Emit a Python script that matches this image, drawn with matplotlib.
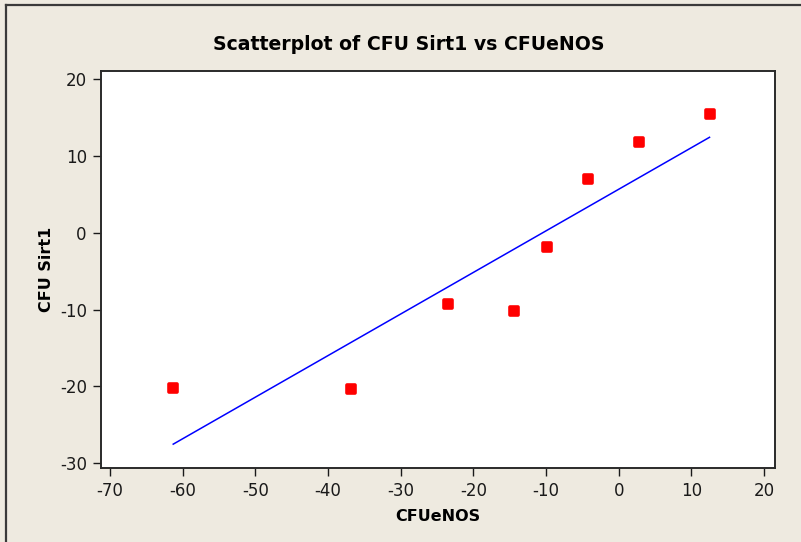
import numpy as np
import matplotlib
matplotlib.use("Agg")
import matplotlib.pyplot as plt
from matplotlib.lines import Line2D
from matplotlib.markers import MarkerStyle

plt.rcParams["axes.unicode_minus"] = False

# Observations
cfu_enos = [-61.3, -36.8, -23.5, -14.4, -9.9, -4.2, 2.8, 12.5]
cfu_sirt1 = [-20.2, -20.3, -9.3, -10.2, -1.9, 7.0, 11.8, 15.4]

x_ticks = [-70, -60, -50, -40, -30, -20, -10, 0, 10, 20]
y_ticks = [-30, -20, -10, 0, 10, 20]

title = "Scatterplot of CFU Sirt1 vs CFUeNOS"
x_label = "CFUeNOS"
y_label = "CFU Sirt1"

bg = "#EEEAE0"
W, H = 801, 542
fig = plt.figure(figsize=(W / 100, H / 100), dpi=100, facecolor=bg)

ax = fig.add_axes([100.7 / W, 1 - 468.3 / H, (775 - 100.7) / W, (468.3 - 70.7) / H])
ax.set_facecolor("white")

x = np.array(cfu_enos)
y = np.array(cfu_sirt1)

# Least-squares fit line over the data range
slope, intercept = np.polyfit(x, y, 1)
xs = np.array([x.min(), x.max()])
ax.plot(xs, slope * xs + intercept, color="#0000FF", lw=1.1, zorder=2)

ax.plot(x, y, linestyle="none",
        marker=MarkerStyle("s", joinstyle="round"),
        markersize=5.5, markeredgewidth=2.6,
        markerfacecolor="#FF0000", markeredgecolor="#FF0000", zorder=3)

ax.set_xlim(-71.28, 21.51)
ax.set_ylim(-30.65, 21.08)
ax.set_xticks(x_ticks)
ax.set_yticks(y_ticks)
ax.tick_params(direction="out", length=6, width=1.0, labelsize=12,
               colors="#1a1a1a", pad=4)
for s in ax.spines.values():
    s.set_linewidth(1.4)
    s.set_color("#2a2a2a")

ax.set_xlabel(x_label, fontsize=11.5, fontweight="bold", labelpad=6)
ax.set_ylabel(y_label, fontsize=11.5, fontweight="bold", labelpad=4)
fig.text(409 / W, 1 - 45 / H, title, ha="center", va="center",
         fontsize=13.6, fontweight="bold")

# Frame edges of the window
fig.add_artist(Line2D([6 / W, 1], [1 - 5 / H, 1 - 5 / H],
                      transform=fig.transFigure, color="#3a3a3a", lw=1.6))
fig.add_artist(Line2D([6 / W, 6 / W], [0, 1 - 5 / H],
                      transform=fig.transFigure, color="#3a3a3a", lw=1.6))

fig.savefig("out.png", dpi=100, facecolor=bg)
